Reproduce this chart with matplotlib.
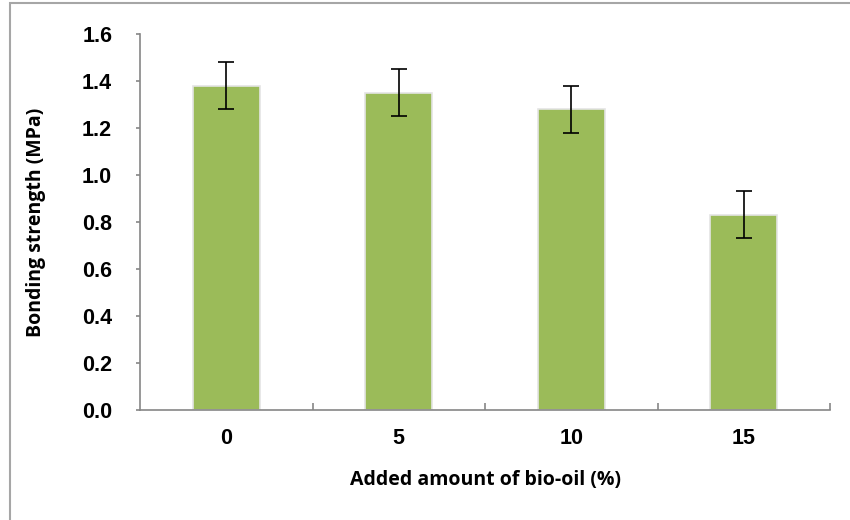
import matplotlib
matplotlib.use("Agg")
import matplotlib.pyplot as plt
from matplotlib.patches import Rectangle

categories = ["0", "5", "10", "15"]
strength = [1.38, 1.35, 1.28, 0.83]
errors = [0.10, 0.10, 0.10, 0.10]
y_ticks = [0.0, 0.2, 0.4, 0.6, 0.8, 1.0, 1.2, 1.4, 1.6]

BAR_COLOR = "#9bbb59"
AXIS_COLOR = "#868686"

fig = plt.figure(figsize=(8.5, 5.2), dpi=100)
ax = fig.add_axes([140 / 850, 110 / 520, 690 / 850, 376 / 520])

x = list(range(len(categories)))
ax.bar(x, strength, width=0.39, color=BAR_COLOR, edgecolor="#e4e4e4",
       linewidth=1.2, zorder=2)
ax.errorbar(x, strength, yerr=errors, fmt="none", ecolor="black",
            elinewidth=1.2, capsize=6, capthick=1.2, zorder=3)

ax.set_xlim(-0.5, len(categories) - 0.5)
ax.set_ylim(0, 1.6)
ax.set_yticks(y_ticks)
ax.set_yticklabels([f"{v:.1f}" for v in y_ticks])
ax.set_xticks(x)
ax.set_xticklabels(categories)
ax.set_xticks([i + 0.5 for i in range(len(categories))], minor=True)

for side in ("top", "right"):
    ax.spines[side].set_visible(False)
for side in ("left", "bottom"):
    ax.spines[side].set_color(AXIS_COLOR)
    ax.spines[side].set_linewidth(1.2)

ax.tick_params(axis="y", direction="out", length=3, color=AXIS_COLOR,
               width=1.2, pad=17, labelsize=15.5)
ax.tick_params(axis="x", which="major", length=0, pad=13, labelsize=15.5)
ax.tick_params(axis="x", which="minor", direction="in", length=5,
               color=AXIS_COLOR, width=1.2)
for lbl in ax.get_xticklabels() + ax.get_yticklabels():
    lbl.set_fontfamily("Liberation Sans")
    lbl.set_fontweight("bold")

ax.set_xlabel("Added amount of bio-oil (%)", fontsize=14,
              fontfamily="Open Sans", fontweight="bold", labelpad=15)
ax.set_ylabel("Bonding strength (MPa)", fontsize=14,
              fontfamily="Open Sans", fontweight="bold", labelpad=26)

# chart frame (only left and top edges fall inside the image)
fig.patches.append(Rectangle((10 / 850, -0.1), 1.2, 1.1 - 3 / 520,
                             transform=fig.transFigure, fill=False,
                             edgecolor="#a6a6a6", linewidth=1.5))

fig.savefig("out.png", dpi=100)
